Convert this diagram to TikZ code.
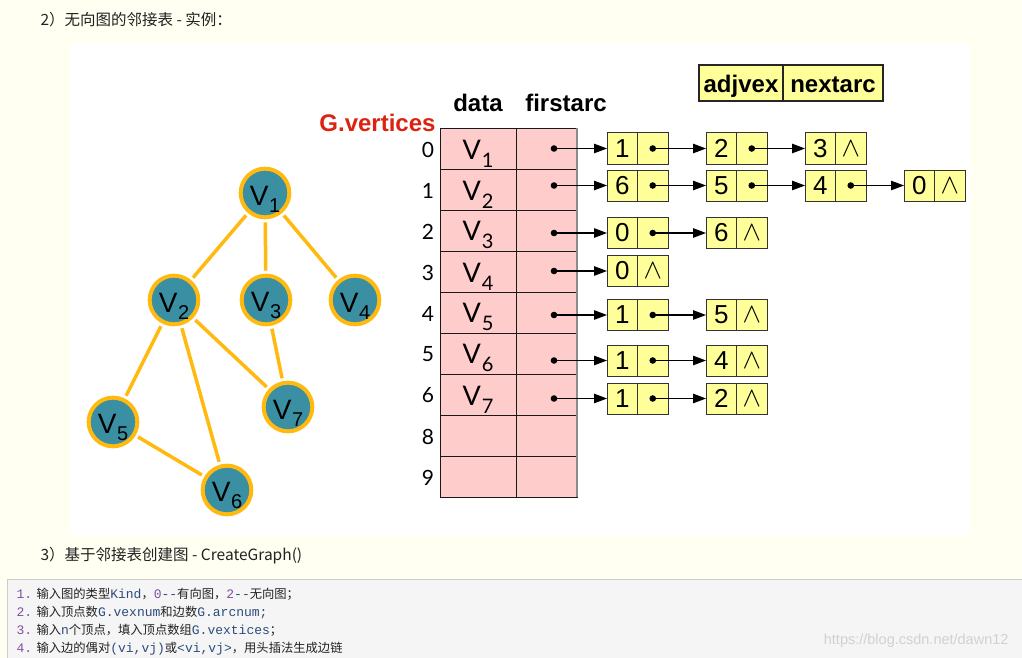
\documentclass[tikz,border=0pt]{standalone}
\usepackage{fontspec}
\setmainfont{Liberation Sans}
\newfontfamily\cjk{Noto Sans CJK SC}
\newfontfamily\codemono[Ligatures=TeXOff]{Liberation Mono}
\newfontfamily\gill{Lato}
\usetikzlibrary{arrows.meta,positioning}

\definecolor{cream}{HTML}{FFFFF2}
\definecolor{tpink}{HTML}{FFCCCC}
\definecolor{lyellow}{HTML}{FFFF99}
\definecolor{gteal}{HTML}{3A8FA3}
\definecolor{gorange}{HTML}{FFB90F}
\definecolor{gred}{HTML}{DD2211}
\definecolor{codegray}{HTML}{F5F5F5}
\definecolor{codeborder}{HTML}{CCCCCC}
\definecolor{numpurple}{HTML}{7F4F9F}
\definecolor{codeblue}{HTML}{2B4B7B}
\definecolor{codetext}{HTML}{222222}

\newcommand\gvl[1]{\rule{0pt}{31pt}{\fontsize{28}{28}\selectfont V\kern0.5pt\raisebox{-7pt}{\fontsize{20}{20}\selectfont #1}}}
\newcommand\tabv[1]{\rule{0pt}{29pt}{\gill\fontsize{27}{27}\selectfont V\kern1pt\raisebox{-8pt}{\fontsize{20}{20}\selectfont #1}}}
\newcommand\nullsym{\raisebox{-2pt}{\scalebox{2.3}{\fontsize{12}{12}\selectfont$\wedge$}}}
\newcommand\cn[1]{{\cjk\color{codetext}#1}}
\newcommand\cm[1]{{\codemono\fontsize{13}{13}\selectfont\color{codeblue}#1}}
\newcommand\cnum[1]{{\codemono\fontsize{13}{13}\selectfont\color{numpurple}#1}}

\newcommand\lnode[4]{\node[lval] (#1v) at (#2,#3) {#4}; \node[lval,anchor=west] (#1p) at (#1v.east) {};}
\newcommand\lnull[4]{\node[lval] (#1v) at (#2,#3) {#4}; \node[lval,anchor=west] (#1p) at (#1v.east) {\nullsym};}
\newcommand\lptr[2]{\fill (#1p.center) circle (3.3pt); \draw[ptrarrow] (#1p.center) -- (#2v.west);}
\newcommand\trow[3]{%
  \node[dcell] (d#1) at (440,{128+41*#1}) {#3};
  \node[pcell] (p#1) at (516,{128+41*#1}) {};
  \node[idx] (i#1) at (428,{149.5+41*#1}) {#2};}

\begin{document}
\begin{tikzpicture}[x=1pt,y=-1pt,
  gv/.style={circle, draw=gorange, line width=4pt, fill=gteal, minimum size=43pt, inner sep=0pt},
  gedge/.style={draw=gorange, line width=3.5pt, shorten >=3pt, shorten <=3pt},
  dcell/.style={rectangle, draw=black!90, fill=tpink, line width=0.9pt, minimum width=76pt, minimum height=41pt, inner sep=0pt, outer sep=0pt, anchor=north west},
  pcell/.style={dcell, minimum width=61pt},
  idx/.style={font=\gill\fontsize{21}{21}\selectfont},
  lval/.style={rectangle, draw=black!80, fill=lyellow, line width=1pt, minimum width=30.5pt, minimum height=31pt, inner sep=0pt, outer sep=0pt, font=\fontsize{26}{26}\selectfont},
  hbox/.style={rectangle, draw=black!85, fill=lyellow, line width=1.2pt, minimum height=36pt, text height=19pt, text depth=0pt, inner sep=0pt, outer sep=0pt, anchor=north west, font=\bfseries\fontsize{24}{24}\selectfont},
  ptrarrow/.style={line width=1.1pt, -{Triangle[length=13pt,width=9.5pt]}},
  hdr/.style={anchor=base, font=\bfseries\fontsize{24}{24}\selectfont},
  code/.style={anchor=base west, font=\fontsize{12.3}{12.3}\selectfont}
]
\useasboundingbox (0,0) rectangle (1022,658);
\fill[cream] (0,0) rectangle (1022,658);
\fill[white] (70,43) rectangle (970,535);
\fill[codegray] (7,579) rectangle (1022,658);
\draw[codeborder, line width=1pt] (7,658) -- (7,579) -- (1022,579);

% headings
\node[anchor=west, font=\cjk\fontsize{15.5}{16}\selectfont, text=codetext] (h1) at (37,20) {2）无向图的邻接表 - 实例：};
\node[anchor=west, font=\cjk\fontsize{15.5}{16}\selectfont, text=codetext] (h2) at (37,556) {3）基于邻接表创建图 - CreateGraph()};

% code lines
\node[code] (n1) at (13,598) {\cnum{1.}};
\node[code] (c1) at (33,598) {\cn{输入图的类型}\cm{Kind}\cn{，}\cnum{0}\cm{--}\cn{有向图，}\cnum{2}\cm{--}\cn{无向图；}};
\node[code] (n2) at (13,616) {\cnum{2.}};
\node[code] (c2) at (33,616) {\cn{输入顶点数}\cm{G.vexnum}\cn{和边数}\cm{G.arcnum;}};
\node[code] (n3) at (13,634) {\cnum{3.}};
\node[code] (c3) at (33,634) {\cn{输入}\cm{n}\cn{个顶点，填入顶点数组}\cm{G.vextices}\cn{；}};
\node[code] (n4) at (13,652) {\cnum{4.}};
\node[code] (c4) at (33,652) {\cn{输入边的偶对}\cm{(vi,vj)}\cn{或}\cm{<vi,vj>}\cn{，用头插法生成边链}};
\node[anchor=base east, font=\fontsize{14.5}{15}\selectfont, text=black!18] (wm) at (1012,644) {https://blog.csdn.net/dawn12};

% graph
\node[gv] (v1) at (265,193) {\gvl{1}};
\node[gv] (v2) at (174,300) {\gvl{2}};
\node[gv] (v3) at (266,300) {\gvl{3}};
\node[gv] (v4) at (355,300) {\gvl{4}};
\node[gv] (v5) at (113,422) {\gvl{5}};
\node[gv] (v6) at (227,490) {\gvl{6}};
\node[gv] (v7) at (288,407) {\gvl{7}};
\draw[gedge] (v1) -- (v2);
\draw[gedge] (v1) -- (v3);
\draw[gedge] (v1) -- (v4);
\draw[gedge] (v2) -- (v5);
\draw[gedge] (v2) -- (v6);
\draw[gedge] (v2) -- (v7);
\draw[gedge] (v3) -- (v7);
\draw[gedge] (v5) -- (v6);

% table headers
\node[hdr] (hdata) at (478,112) {data};
\node[hdr] (hfirst) at (566,112) {firstarc};
\node[hdr, text=gred] (gvert) at (377.5,131.5) {G.vertices};
\node[hbox, minimum width=84pt] (hadj) at (699,65) {adjvex};
\node[hbox, minimum width=100pt] (hnext) at (783,65) {nextarc};

% table
\trow{0}{0}{\tabv{1}}
\trow{1}{1}{\tabv{2}}
\trow{2}{2}{\tabv{3}}
\trow{3}{3}{\tabv{4}}
\trow{4}{4}{\tabv{5}}
\trow{5}{5}{\tabv{6}}
\trow{6}{6}{\tabv{7}}
\trow{7}{8}{}
\trow{8}{9}{}
\draw[black!45, line width=1.4pt] (p0.north east) -- (p8.south east);

% lists
\lnode{r0a}{622.25}{148.5}{1}
\lnode{r0b}{721.25}{148.5}{2}
\lnull{r0c}{820.25}{148.5}{3}
\lnode{r1a}{622.25}{185.5}{6}
\lnode{r1b}{721.25}{185.5}{5}
\lnode{r1c}{820.25}{185.5}{4}
\lnull{r1d}{919.25}{185.5}{0}
\lnode{r2a}{622.25}{233}{0}
\lnull{r2b}{721.25}{233}{6}
\lnull{r3a}{622.25}{271}{0}
\lnode{r4a}{622.25}{315}{1}
\lnull{r4b}{721.25}{315}{5}
\lnode{r5a}{622.25}{360.5}{1}
\lnull{r5b}{721.25}{360.5}{4}
\lnode{r6a}{622.25}{398.5}{1}
\lnull{r6b}{721.25}{398.5}{2}

\lptr{r0a}{r0b}
\lptr{r0b}{r0c}
\lptr{r1a}{r1b}
\lptr{r1b}{r1c}
\lptr{r1c}{r1d}
\lptr{r2a}{r2b}
\lptr{r4a}{r4b}
\lptr{r5a}{r5b}
\lptr{r6a}{r6b}

% table pointers
\coordinate (t0) at (554,148.5);
\coordinate (t1) at (554,185.5);
\coordinate (t2) at (554,233);
\coordinate (t3) at (554,271);
\coordinate (t4) at (554,315);
\coordinate (t5) at (554,360.5);
\coordinate (t6) at (554,398.5);
\foreach \k/\tgt in {0/r0a,1/r1a,2/r2a,3/r3a,4/r4a,5/r5a,6/r6a}{
  \fill (t\k) circle (3.3pt);
  \draw[ptrarrow] (t\k) -- (\tgt v.west);
}
\end{tikzpicture}
\end{document}
